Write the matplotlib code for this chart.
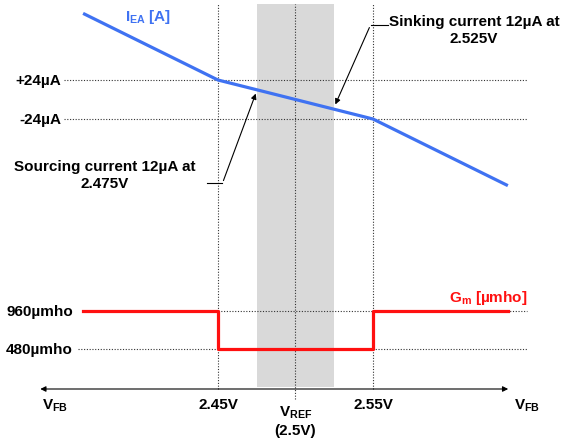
import numpy as np
import matplotlib
matplotlib.use('Agg')
import matplotlib.pyplot as plt

plt.rcParams['font.family'] = ['Liberation Sans', 'DejaVu Sans']
plt.rcParams['mathtext.fontset'] = 'custom'
plt.rcParams['mathtext.rm'] = 'Liberation Sans:bold'
plt.rcParams['mathtext.it'] = 'Liberation Sans:bold'
plt.rcParams['mathtext.bf'] = 'Liberation Sans:bold'

# error amplifier current vs feedback voltage
vfb = [2.363, 2.45, 2.55, 2.637]
iea = [106, 24, -24, -106]

# transconductance vs feedback voltage
gm_v = [2.363, 2.45, 2.55, 2.637]
gm = [960, 480, 960, 960]

v_marks = [2.45, 2.5, 2.55]
i_levels = [24, -24]
i_labels = ['+24µA', '-24µA']
gm_levels = [960, 480]
gm_labels = ['960µmho', '480µmho']

W, H = 566, 439
fig = plt.figure(figsize=(W / 100, H / 100), dpi=100)
ax = fig.add_axes([0, 0, 1, 1])
ax.set_xlim(2.3094, 2.6745)
ax.set_ylim(-416.6, 123.7)
ax.axis('off')

ax2 = ax.twinx()
ax2.set_ylim(-644, 4901)
ax2.axis('off')

def fy(py):
    return 1 - py / H

dot = dict(color='#333333', lw=0.8, ls=(0, (1, 1.5)))
txt = dict(fontsize=11, fontweight='bold')

# reference window
ax.axvspan(2.475, 2.525, ymin=fy(388), ymax=fy(5), color='#d9d9d9', lw=0, zorder=0)

ax.axvline(v_marks[0], ymin=fy(390), ymax=fy(5), **dot)
ax.axvline(v_marks[1], ymin=fy(400), ymax=fy(5), **dot)
ax.axvline(v_marks[2], ymin=fy(390), ymax=fy(5), **dot)

for lvl, lab in zip(i_levels, i_labels):
    ax.plot([2.3506, 2.6494], [lvl, lvl], **dot)
    ax.text(2.3487, lvl, lab, ha='right', va='center', **txt)

ax2.plot([2.45, 2.6494], [gm_levels[0]] * 2, **dot)
ax2.plot([2.3597, 2.6494], [gm_levels[1]] * 2, **dot)
for lvl, lab in zip(gm_levels, gm_labels):
    ax2.text(2.3565, lvl, lab, ha='right', va='center', **txt)

ax.plot(vfb, iea, color='#3f72f2', lw=2.3, solid_capstyle='butt', zorder=3)
ax2.plot(gm_v, gm, color='#ff1010', lw=2.3, drawstyle='steps-post', zorder=3)

ax.text(2.3900, 103, r'$\mathregular{I_{EA}}$ [A]', color='#3f72f2',
        ha='left', va='center', **txt)
ax2.text(2.6494, 1137, r'$\mathregular{G_{m}}$ [µmho]', color='#ff1010',
         ha='right', va='center', **txt)

# annotations
ax.annotate('', xy=(2.475, 10.5), xytext=(2.4529, -103),
            arrowprops=dict(arrowstyle='-|>', color='black', lw=0.8, mutation_scale=8))
ax.plot([2.4429, 2.4529], [-103, -103], color='black', lw=0.8)
ax.text(2.3772, -92, 'Sourcing current 12µA at\n2.475V', ha='center', va='center',
        linespacing=1.3, **txt)

ax.annotate('', xy=(2.525, -9.2), xytext=(2.5484, 91.7),
            arrowprops=dict(arrowstyle='-|>', color='black', lw=0.8, mutation_scale=8))
ax.plot([2.5484, 2.5597], [91.7, 91.7], color='black', lw=0.8)
ax.text(2.6152, 86, 'Sinking current 12µA at\n2.525V', ha='center', va='center',
        linespacing=1.3, **txt)

# horizontal voltage axis
ya = fy(390)
ax.annotate('', xy=(2.6390, ya), xytext=(2.3336, ya), xycoords=('data', 'axes fraction'),
            textcoords=('data', 'axes fraction'),
            arrowprops=dict(arrowstyle='<|-|>', color='black', lw=0.8, mutation_scale=8))

xt = ax.get_xaxis_transform()
ax.text(2.3449, fy(406), r'$\mathregular{V_{FB}}$', transform=xt, ha='center', va='center', **txt)
ax.text(2.6494, fy(406), r'$\mathregular{V_{FB}}$', transform=xt, ha='center', va='center', **txt)
ax.text(2.45, fy(405), '2.45V', transform=xt, ha='center', va='center', **txt)
ax.text(2.55, fy(405), '2.55V', transform=xt, ha='center', va='center', **txt)
ax.text(2.5, fy(413), r'$\mathregular{V_{REF}}$', transform=xt, ha='center', va='center', **txt)
ax.text(2.5, fy(431), '(2.5V)', transform=xt, ha='center', va='center', **txt)

fig.savefig('out.png', dpi=100, facecolor='white')
